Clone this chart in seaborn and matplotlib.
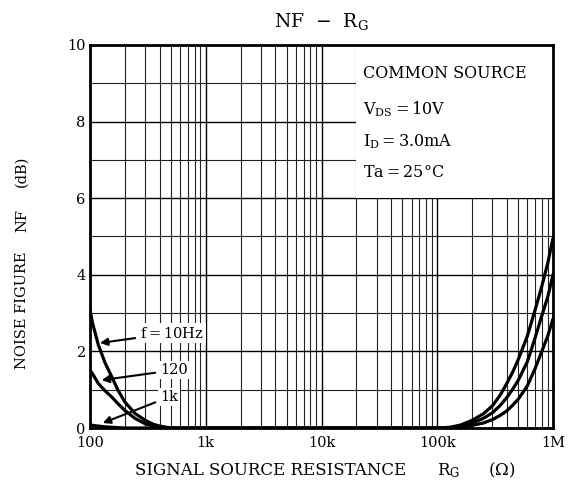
import numpy as np
import pandas as pd
import seaborn as sns
import matplotlib
matplotlib.use("Agg")
import matplotlib.pyplot as plt
from matplotlib.ticker import LogLocator, MultipleLocator, FixedLocator, NullFormatter
from matplotlib.patches import Rectangle

# source resistance points (ohm), low side and high side
rg_low = [100, 105, 118, 135, 154, 175, 200, 245, 300, 350, 400, 500]
rg_high = [100e3, 130e3, 160e3, 200e3, 250e3, 300e3, 350e3, 400e3, 450e3, 500e3,
           600e3, 700e3, 800e3, 900e3, 1e6]

# noise figure (dB)
nf_10hz_low = [3.09, 2.75, 2.17, 1.7, 1.34, 0.98, 0.68, 0.38, 0.2, 0.1, 0.05, 0.0]
nf_120hz_low = [1.51, 1.42, 1.16, 0.97, 0.81, 0.63, 0.46, 0.25, 0.11, 0.05, 0.01, 0.0]
nf_1khz_low = [0.08, 0.07, 0.05, 0.03, 0.02, 0.01, 0.0, 0.0, 0.0, 0.0, 0.0, 0.0]

nf_10hz_high = [0.0, 0.02, 0.08, 0.2, 0.37, 0.58, 0.86, 1.17, 1.47, 1.78, 2.4, 3.08, 3.7, 4.3, 4.95]
nf_120hz_high = [0.0, 0.01, 0.05, 0.13, 0.25, 0.4, 0.59, 0.8, 1.02, 1.24, 1.73, 2.35, 2.93, 3.42, 4.0]
nf_1khz_high = [0.0, 0.0, 0.03, 0.07, 0.13, 0.22, 0.33, 0.45, 0.6, 0.75, 1.1, 1.55, 2.0, 2.4, 2.85]

freqs = ["10Hz", "120", "1k"]
low_vals = [nf_10hz_low, nf_120hz_low, nf_1khz_low]
high_vals = [nf_10hz_high, nf_120hz_high, nf_1khz_high]

rows = []
for f, lo, hi in zip(freqs, low_vals, high_vals):
    for r, v in zip(rg_low + rg_high, lo + hi):
        rows.append({"RG": r, "NF": v, "f": f})
df = pd.DataFrame(rows)

sns.set_style("white")
plt.rcParams["font.family"] = ["DejaVu Serif"]
plt.rcParams["mathtext.fontset"] = "dejavuserif"
plt.rcParams["text.color"] = "black"

fig = plt.figure(figsize=(5.71, 4.92), dpi=100)
ax = fig.add_axes([90 / 571, 64 / 492, 463 / 571, 383 / 492])

sns.lineplot(data=df, x="RG", y="NF", hue="f", palette=["black"] * 3,
             linewidth=2.3, legend=False, ax=ax, zorder=3, sort=True)

ax.set_xscale("log")
ax.set_xlim(100, 1e6)
ax.set_ylim(0, 10)

# grid
ax.xaxis.set_major_locator(FixedLocator([1e2, 1e3, 1e4, 1e5, 1e6]))
ax.xaxis.set_minor_locator(LogLocator(base=10, subs=np.arange(2, 10), numticks=20))
ax.xaxis.set_minor_formatter(NullFormatter())
ax.set_xticklabels(["100", "1k", "10k", "100k", "1M"])
ax.yaxis.set_major_locator(MultipleLocator(2))
ax.yaxis.set_minor_locator(MultipleLocator(1))
ax.set_axisbelow(True)
ax.grid(which="major", color="black", linewidth=1.0)
ax.grid(which="minor", color="#222222", linewidth=0.8)
ax.tick_params(which="both", length=0, labelsize=10.5, colors="black")
ax.tick_params(axis="x", pad=6)
ax.tick_params(axis="y", pad=3)

for s in ax.spines.values():
    s.set_visible(True)
    s.set_color("black")
    s.set_linewidth(2.0)

# condition box
ax.add_patch(Rectangle((2e4, 6), 1e6 - 2e4, 4, facecolor="white", edgecolor="none", zorder=1))
cond = ["COMMON SOURCE", r"V$_{\mathrm{DS}}$$=$10V", r"I$_{\mathrm{D}}$$=$3.0mA", "Ta$=$25°C"]
cond_y = [9.13, 8.2, 7.36, 6.56]
for t, y in zip(cond, cond_y):
    ax.text(2.3e4, y, t, fontsize=11.5, va="baseline", ha="left", zorder=4)

# curve labels
lab_kw = dict(fontsize=10.5, va="center", ha="left", zorder=5,
              bbox=dict(facecolor="white", edgecolor="none", pad=1.5),
              arrowprops=dict(arrowstyle="-|>", color="black", lw=1.5, mutation_scale=11,
                              shrinkA=2, shrinkB=0))
ax.annotate("f$=$10Hz", xy=(122, 2.22), xytext=(270, 2.48), **lab_kw)
ax.annotate("120", xy=(126, 1.25), xytext=(402, 1.51), **lab_kw)
ax.annotate("1k", xy=(129, 0.13), xytext=(402, 0.81), **lab_kw)

ax.set_xlabel("")
ax.set_ylabel("")
fig.text(321 / 571, 1 - 21 / 492, r"NF  $-$  R$_{\mathrm{G}}$", fontsize=13.5, ha="center", va="center")

# x axis title, spread out as in the original
xl_y = 1 - 475 / 492
fig.text(135 / 571, xl_y, "SIGNAL SOURCE RESISTANCE", fontsize=12, ha="left", va="baseline")
fig.text(437 / 571, xl_y, r"R$_{\mathrm{G}}$", fontsize=12, ha="left", va="baseline")
fig.text(488 / 571, xl_y, r"($\Omega$)", fontsize=12, ha="left", va="baseline")

# y axis title
fig.text(22 / 571, 1 - 310 / 492, "NOISE FIGURE", fontsize=10.5, rotation=90, ha="center", va="center")
fig.text(22 / 571, 1 - 221 / 492, "NF", fontsize=10.5, rotation=90, ha="center", va="center")
fig.text(22 / 571, 1 - 171 / 492, "(dB)", fontsize=10.5, rotation=90, ha="center", va="center")

fig.savefig("out.png", dpi=100)
